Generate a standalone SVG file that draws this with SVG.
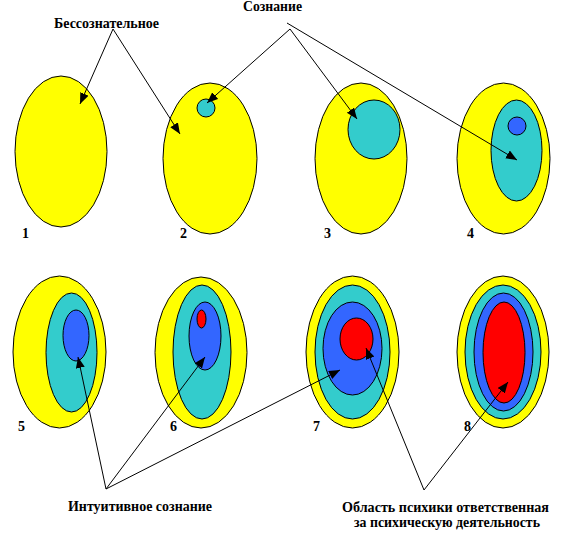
<svg xmlns="http://www.w3.org/2000/svg" width="562" height="534" viewBox="0 0 562 534">
<defs>
<marker id="ah" markerUnits="userSpaceOnUse" markerWidth="12" markerHeight="10" refX="11" refY="4.5" orient="auto">
<path d="M0,0 L11,4.5 L0,9 Z" fill="#000"/>
</marker>
<style>
ellipse{stroke:#000;stroke-width:1}
.y{fill:#FFFF00}.c{fill:#33CCCC}.b{fill:#3366FF}.r{fill:#FF0000}
text{font-weight:bold;font-size:14px;fill:#000}
.con line{stroke:#000;stroke-width:1;marker-end:url(#ah)}
</style>
</defs>
<rect width="562" height="534" fill="#fff"/>
<g font-family="'Liberation Serif', 'DejaVu Serif', serif">
<g id="n1"><ellipse class="y" cx="61" cy="151.5" rx="46" ry="75.5"/><text x="22" y="238">1</text></g>
<g id="n2"><ellipse class="y" cx="210" cy="158.5" rx="47" ry="75.5"/><ellipse class="c" cx="206" cy="108" rx="9" ry="9"/><text x="180" y="238">2</text></g>
<g id="n3"><ellipse class="y" cx="361" cy="158.5" rx="46" ry="75.5"/><ellipse class="c" cx="374" cy="129.5" rx="26" ry="29.5"/><text x="324" y="238">3</text></g>
<g id="n4"><ellipse class="y" cx="503.5" cy="158.5" rx="46.5" ry="75.5"/><ellipse class="c" cx="516.5" cy="150.5" rx="25.5" ry="50.5"/><ellipse class="b" cx="517" cy="126" rx="9" ry="9"/><text x="467" y="238">4</text></g>
<g id="n5"><ellipse class="y" cx="59.5" cy="352" rx="46.5" ry="76"/><ellipse class="c" cx="71.5" cy="352.5" rx="25.5" ry="59.5"/><ellipse class="b" cx="76" cy="335.5" rx="13" ry="25.5"/><text x="18" y="431">5</text></g>
<g id="n6"><ellipse class="y" cx="201" cy="352.5" rx="46" ry="75.5"/><ellipse class="c" cx="202" cy="352" rx="29" ry="67"/><ellipse class="b" cx="205" cy="336" rx="16" ry="34"/><ellipse class="r" cx="201.5" cy="319" rx="4.5" ry="9"/><text x="170" y="431">6</text></g>
<g id="n7"><ellipse class="y" cx="352.5" cy="352" rx="46.5" ry="76"/><ellipse class="c" cx="352.5" cy="352" rx="37.5" ry="67"/><ellipse class="b" cx="352.5" cy="348.5" rx="29.5" ry="46.5"/><ellipse class="r" cx="356.5" cy="339" rx="16.5" ry="21"/><text x="313" y="431">7</text></g>
<g id="n8"><ellipse class="y" cx="503" cy="352" rx="46" ry="76"/><ellipse class="c" cx="503" cy="352" rx="38" ry="67"/><ellipse class="b" cx="503.5" cy="352" rx="29.5" ry="59"/><ellipse class="r" cx="504" cy="352.5" rx="21" ry="50.5"/><text x="464" y="431">8</text></g>
<g id="labels">
<text x="54" y="28" textLength="105" lengthAdjust="spacingAndGlyphs">Бессознательное</text>
<text x="243" y="11" textLength="59" lengthAdjust="spacingAndGlyphs">Сознание</text>
<text x="68" y="511" textLength="144" lengthAdjust="spacingAndGlyphs">Интуитивное сознание</text>
<text x="342" y="512" textLength="207" lengthAdjust="spacingAndGlyphs">Область психики ответственная</text>
<text x="354" y="527" textLength="186" lengthAdjust="spacingAndGlyphs">за психическую деятельность</text>
</g>
</g>
<g class="con" id="connectors">
<line x1="113" y1="29" x2="80" y2="104"/>
<line x1="113" y1="29" x2="180" y2="134"/>
<line x1="290" y1="29" x2="207" y2="103"/>
<line x1="290" y1="29" x2="357" y2="119"/>
<line x1="287" y1="23" x2="517" y2="160"/>
<line x1="106" y1="489" x2="78" y2="357"/>
<line x1="106" y1="489" x2="205" y2="357"/>
<line x1="106" y1="489" x2="340" y2="370"/>
<line x1="424" y1="490" x2="366" y2="348"/>
<line x1="424" y1="490" x2="508" y2="382"/>
</g>
</svg>
